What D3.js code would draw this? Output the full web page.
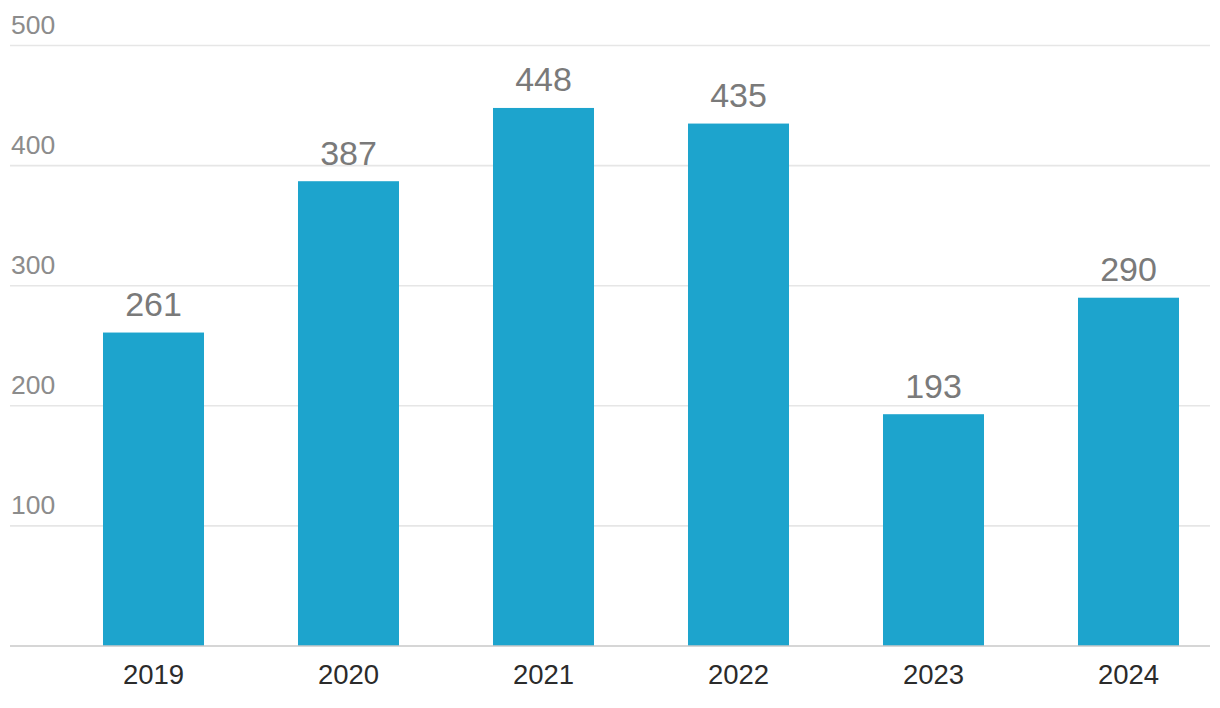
<!DOCTYPE html>
<html>
<head>
<meta charset="utf-8">
<script src="https://cdn.jsdelivr.net/npm/d3@7"></script>
<style>
  html, body { margin: 0; padding: 0; background: #fff; }
  svg { display: block; font-family: "Liberation Sans", Arial, sans-serif; }
</style>
</head>
<body>
<svg id="chart" width="1220" height="708"></svg>
<script>
const years = ["2019", "2020", "2021", "2022", "2023", "2024"];
const values = [261, 387, 448, 435, 193, 290];
const yTicks = [100, 200, 300, 400, 500];

const svg = d3.select("#chart");
const W = 1220, H = 708;
const left = 10, right = 1210;
const y = d3.scaleLinear().domain([0, 500]).range([646, 45.5]);
const x = d3.scaleBand().domain(years).range([56, 1226]).paddingInner(0.482).paddingOuter(0.241);

// gridlines
const grid = svg.append("g");
grid.selectAll("line").data(yTicks).join("line")
  .attr("x1", left).attr("x2", right)
  .attr("y1", d => y(d)).attr("y2", d => y(d))
  .attr("stroke", "#e6e6e6").attr("stroke-width", 1.6);

// y tick labels
svg.append("g").selectAll("text").data(yTicks).join("text")
  .attr("x", 11).attr("y", d => y(d) - 11.5)
  .attr("fill", "#8c8c8c").attr("font-size", 26.5)
  .text(d => d);

// bars
svg.append("g").selectAll("rect").data(values).join("rect")
  .attr("x", (d, i) => x(years[i]))
  .attr("width", x.bandwidth())
  .attr("y", d => y(d))
  .attr("height", d => y(0) - y(d))
  .attr("fill", "#1da4cd");

// baseline
svg.append("line")
  .attr("x1", left).attr("x2", right)
  .attr("y1", y(0)).attr("y2", y(0))
  .attr("stroke", "#c8c8c8").attr("stroke-width", 1.6);

// value labels
svg.append("g").selectAll("text").data(values).join("text")
  .attr("x", (d, i) => x(years[i]) + x.bandwidth() / 2)
  .attr("y", d => y(d) - 16.5)
  .attr("text-anchor", "middle")
  .attr("fill", "#7a7a7a").attr("font-size", 34)
  .text(d => d);

// x axis labels
svg.append("g").selectAll("text").data(years).join("text")
  .attr("x", d => x(d) + x.bandwidth() / 2)
  .attr("y", 684)
  .attr("text-anchor", "middle")
  .attr("fill", "#2b2b2b").attr("font-size", 27.5)
  .text(d => d);
</script>
</body>
</html>
